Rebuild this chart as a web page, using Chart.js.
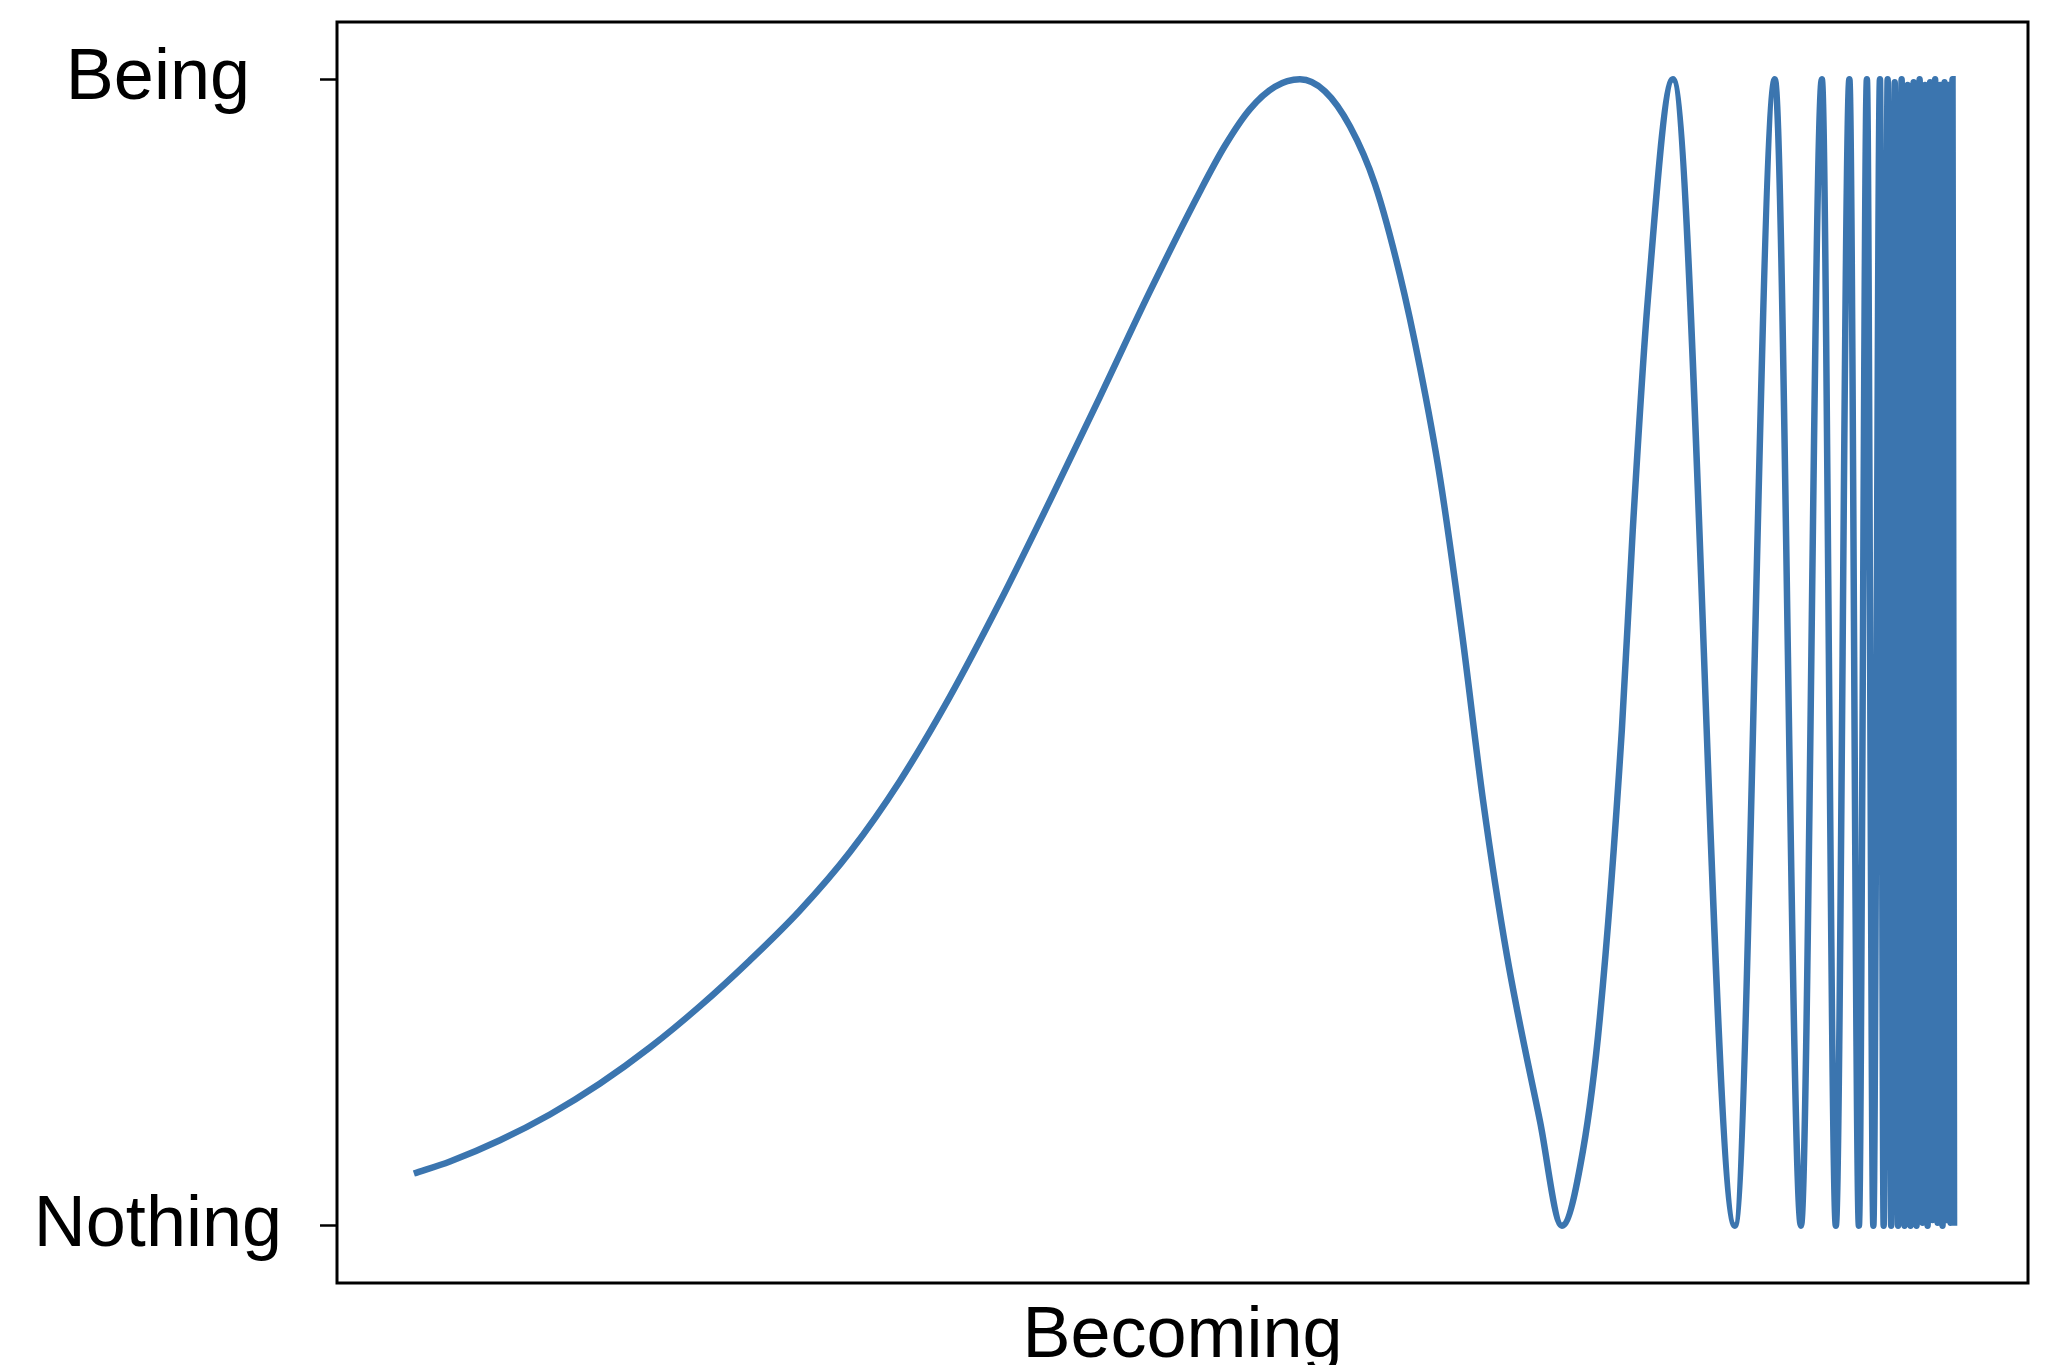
<!DOCTYPE html>
<html>
<head>
<meta charset="utf-8">
<title>Being, Nothing, Becoming</title>
<script src="https://cdn.jsdelivr.net/npm/chart.js@4.4.1/dist/chart.umd.min.js"></script>
<style>
    html, body { margin: 0; padding: 0; background: #fff; }
    #wrap { width: 2048px; height: 1365px; }
</style>
</head>
<body>
<div id="wrap"><canvas id="becomingChart" width="2048" height="1365"></canvas></div>
<script>

// =========================================
// DATA
// =========================================

// slow rise up to the first peak
var riseX = [0.000, 0.235, 0.560, 0.885, 1.211, 1.536, 1.861, 2.186, 2.511, 2.837,
             3.162, 3.487, 3.812, 4.138, 4.463, 4.788, 5.113, 5.276, 5.439, 5.601, 5.764];
var riseY = [-0.909, -0.888, -0.851, -0.806, -0.752, -0.689, -0.617, -0.537, -0.450, -0.348,
             -0.224, -0.077, 0.088, 0.265, 0.446, 0.630, 0.804, 0.884, 0.948, 0.987, 1.000];

// first fall, trough and climb to the second peak
var swingX = [5.927, 6.089, 6.252, 6.414, 6.545, 6.675, 6.818, 6.955, 7.110, 7.325, 7.468,
              7.605, 7.715, 7.858, 7.929, 8.027, 8.190];
var swingY = [0.979, 0.918, 0.817, 0.659, 0.497, 0.305, 0.034, -0.258, -0.528, -0.817, -1.000,
              -0.869, -0.637, -0.135, 0.214, 0.616, 1.000];

// peaks and troughs of the fast oscillation
var flickerX = [8.593, 8.853, 9.023, 9.159, 9.250, 9.338, 9.400, 9.452, 9.494, 9.537,
                9.561, 9.587, 9.610, 9.633, 9.655, 9.678, 9.697, 9.717, 9.736, 9.756,
                9.775, 9.795, 9.814, 9.830, 9.847, 9.863, 9.879, 9.896, 9.912, 9.928,
                9.944, 9.957, 9.970, 9.983, 9.996, 10.009, 10.019];
var flickerY = [-1, 1, -1, 1, -1, 1, -1, 1, -1, 1,
                -1, 1, -1, 0.995, -1, 1, -1, 0.99, -1, 0.995,
                -1, 1, -0.995, 0.99, -1, 0.995, -0.99, 1, -0.995, 0.99,
                -1, 0.995, -0.99, 0.99, -0.995, 1, -1];

var tickValues = [-1, 1];
var tickLabels = ["Nothing", "Being"];
var axisTitle = "Becoming";

var lineColor = "#3b75af";
var fontFamily = "'Liberation Sans', Arial, Helvetica, sans-serif";

// =========================================
// BUILD POINTS
// =========================================

var allX = riseX.concat(swingX, flickerX);
var allY = riseY.concat(swingY, flickerY);

var points = allX.map(function (x, i) {
    return { x: x, y: allY[i] };
});

// box around the plot area
var framePlugin = {
    id: "frame",
    afterDatasetsDraw: function (chart) {
        var a = chart.chartArea;
        var ctx = chart.ctx;
        ctx.save();
        ctx.strokeStyle = "#000";
        ctx.lineWidth = 3;
        ctx.strokeRect(a.left, a.top, a.right - a.left, a.bottom - a.top);
        ctx.restore();
    }
};

new Chart(document.getElementById("becomingChart"), {

    type: "line",

    data: {
        datasets: [{
            data: points,
            borderColor: lineColor,
            borderWidth: 6.5,
            pointRadius: 0,
            fill: false,
            cubicInterpolationMode: "monotone"
        }]
    },

    options: {
        responsive: false,
        animation: false,

        layout: {
            padding: { top: 22, right: 20, bottom: 0, left: 0 }
        },

        plugins: {
            legend: { display: false },
            tooltip: { enabled: false }
        },

        scales: {
            x: {
                type: "linear",
                min: -0.5,
                max: 10.5,
                grid: { display: false },
                border: { display: false },
                ticks: { display: false },
                title: {
                    display: true,
                    text: axisTitle,
                    color: "#000",
                    font: { family: fontFamily, size: 72, lineHeight: 1 },
                    padding: { top: 0, bottom: -8 }
                },
                afterFit: function (scale) {
                    scale.height = 82;
                }
            },
            y: {
                type: "linear",
                min: -1.1,
                max: 1.1,
                afterBuildTicks: function (scale) {
                    scale.ticks = tickValues.map(function (v) {
                        return { value: v };
                    });
                },
                ticks: {
                    color: "#000",
                    font: { family: fontFamily, size: 72 },
                    padding: 38,
                    crossAlign: "center",
                    callback: function (value) {
                        return tickLabels[tickValues.indexOf(value)];
                    }
                },
                grid: {
                    drawOnChartArea: false,
                    tickLength: 17,
                    tickWidth: 2.5,
                    tickColor: "#000"
                },
                border: { display: false },
                afterFit: function (scale) {
                    scale.width = 337;
                    // labels sit well inside, no extra room needed
                    scale.paddingTop = 0;
                    scale.paddingBottom = 0;
                }
            }
        }
    },

    plugins: [framePlugin]
});
</script>
</body>
</html>
